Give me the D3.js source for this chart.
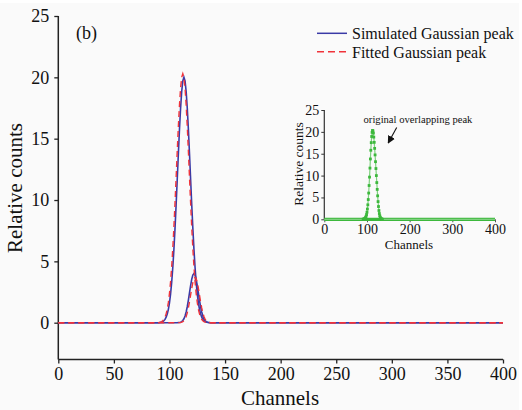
<!DOCTYPE html>
<html>
<head>
<meta charset="utf-8">
<script src="https://cdn.jsdelivr.net/npm/d3@7"></script>
<style>
  html, body { margin: 0; padding: 0; background: #ffffff; }
  svg { display: block; }
  text { font-family: "Liberation Serif", "Times New Roman", serif; fill: #111; }
</style>
</head>
<body>
<script>
// ---------------- DATA ----------------
const xTicks = [0, 50, 100, 150, 200, 250, 300, 350, 400];
const yTicks = [0, 5, 10, 15, 20, 25];
const insetXTicks = [0, 100, 200, 300, 400];
const insetYTicks = [0, 5, 10, 15, 20, 25];
const legendLabels = ["Simulated Gaussian peak", "Fitted Gaussian peak"];

// Simulated peak 1 (channels 91..135)
const sim1Start = 91;
const sim1Values = [0.01, 0.03, 0.05, 0.09, 0.16, 0.27, 0.45, 0.71, 1.09, 1.62,
  2.35, 3.31, 4.52, 6.00, 7.73, 9.65, 11.71, 13.79, 15.77, 17.50,
  18.85, 19.70, 20.00, 19.70, 18.85, 17.50, 15.77, 13.79, 11.71, 9.65,
  7.73, 6.00, 4.52, 3.31, 2.35, 1.62, 1.09, 0.71, 0.45, 0.27,
  0.16, 0.09, 0.05, 0.03, 0.01];
// Simulated peak 2 (channels 108..136)
const sim2Start = 108;
const sim2Values = [0.01, 0.02, 0.04, 0.09, 0.18, 0.32, 0.54, 0.87, 1.30, 1.83,
  2.43, 3.02, 3.53, 3.88, 4.00, 3.88, 3.53, 3.02, 2.43, 1.83,
  1.30, 0.87, 0.54, 0.32, 0.18, 0.09, 0.04, 0.02, 0.01];
// Fitted peak 1 (channels 90..134)
const fit1Start = 90;
const fit1Values = [0.01, 0.03, 0.05, 0.09, 0.16, 0.28, 0.45, 0.72, 1.10, 1.65,
  2.39, 3.36, 4.59, 6.09, 7.84, 9.80, 11.89, 14.00, 16.01, 17.76,
  19.13, 20.00, 20.30, 20.00, 19.13, 17.76, 16.01, 14.00, 11.89, 9.80,
  7.84, 6.09, 4.59, 3.36, 2.39, 1.65, 1.10, 0.72, 0.45, 0.28,
  0.16, 0.09, 0.05, 0.03, 0.01];
// Fitted peak 2 (channels 109..137)
const fit2Start = 109;
const fit2Values = [0.01, 0.02, 0.04, 0.08, 0.16, 0.29, 0.50, 0.80, 1.20, 1.69,
  2.24, 2.79, 3.27, 3.59, 3.70, 3.59, 3.27, 2.79, 2.24, 1.69,
  1.20, 0.80, 0.50, 0.29, 0.16, 0.08, 0.04, 0.02, 0.01];
// Inset: original overlapping peak (channels 91..136)
const origStart = 91;
const origValues = [0.01, 0.03, 0.05, 0.09, 0.16, 0.27, 0.45, 0.71, 1.09, 1.62,
  2.35, 3.31, 4.52, 6.00, 7.73, 9.65, 11.71, 13.80, 15.79, 17.54,
  18.94, 19.88, 20.32, 20.24, 19.72, 18.80, 17.60, 16.22, 14.73, 13.18,
  11.61, 10.00, 8.40, 6.84, 5.37, 4.05, 2.92, 2.01, 1.32, 0.81,
  0.48, 0.27, 0.14, 0.07, 0.03, 0.01];

// build series as [channel, value] points with zero baseline to 0 and 400
function series(start, values) {
  const pts = values.map((v, i) => [start + i, v]);
  return [[0, 0], [start - 1, 0], ...pts, [start + values.length, 0], [400, 0]];
}

// ---------------- CHART ----------------
const W = 522, H = 410;
const svg = d3.select("body").append("svg").attr("width", W).attr("height", H);
svg.append("rect").attr("x", 0).attr("y", 3).attr("width", 519).attr("height", H - 3).attr("fill", "#fafafa");

const x = d3.scaleLinear().domain([0, 400]).range([58.3, 503]);
const y = d3.scaleLinear().domain([-3, 25]).range([359.5, 16]);

const axisColor = "#222";

// X axis
const gx = svg.append("g").attr("transform", `translate(0,${y(-3)})`)
  .call(d3.axisBottom(x).tickValues(xTicks).tickSize(4).tickPadding(4).tickFormat(d3.format("d")));
gx.select(".domain").attr("stroke", axisColor).attr("stroke-width", 1.5).attr("d", `M${x(0)},0H${x(400)}`);
gx.selectAll(".tick line").attr("stroke", axisColor).attr("stroke-width", 1.3);
gx.selectAll(".tick text").attr("font-size", 18).attr("font-family", "Liberation Serif").attr("fill", "#111");

// Y axis
const gy = svg.append("g").attr("transform", `translate(${x(0)},0)`)
  .call(d3.axisLeft(y).tickValues(yTicks).tickSize(4).tickPadding(5).tickFormat(d3.format("d")));
gy.select(".domain").attr("stroke", axisColor).attr("stroke-width", 1.5).attr("d", `M0,${y(25)}V${y(-3)}`);
gy.selectAll(".tick line").attr("stroke", axisColor).attr("stroke-width", 1.3);
gy.selectAll(".tick text").attr("font-size", 18).attr("font-family", "Liberation Serif").attr("fill", "#111");

// Axis titles
svg.append("text").attr("x", 280).attr("y", 405).attr("text-anchor", "middle")
  .attr("font-size", 21).text("Channels");
svg.append("text").attr("transform", `translate(22,${188}) rotate(-90)`).attr("text-anchor", "middle")
  .attr("font-size", 21).text("Relative counts");

svg.append("text").attr("x", 76).attr("y", 39).attr("font-size", 18).text("(b)");

// Lines
const line = d3.line().x(d => x(d[0])).y(d => y(d[1]));
const blue = "#3a3aa6", red = "#f0333a";
[series(sim1Start, sim1Values), series(sim2Start, sim2Values)].forEach(s => {
  svg.append("path").datum(s).attr("d", line).attr("fill", "none")
    .attr("stroke", blue).attr("stroke-width", 1.6);
});
[series(fit1Start, fit1Values), series(fit2Start, fit2Values)].forEach(s => {
  svg.append("path").datum(s).attr("d", line).attr("fill", "none")
    .attr("stroke", red).attr("stroke-width", 1.4).attr("stroke-dasharray", "6,4");
});

// Legend
const legend = svg.append("g");
legendLabels.forEach((lab, i) => {
  const ly = 33.3 + i * 18.4;
  legend.append("line").attr("x1", 317).attr("x2", 347).attr("y1", ly).attr("y2", ly)
    .attr("stroke", i === 0 ? blue : red).attr("stroke-width", 1.5)
    .attr("stroke-dasharray", i === 0 ? null : "7,4");
  legend.append("text").attr("x", 352).attr("y", ly + 6).attr("font-size", 16).text(lab);
});

// ---------------- INSET ----------------
const ix = d3.scaleLinear().domain([0, 400]).range([324.3, 495]);
const iy = d3.scaleLinear().domain([0, 25]).range([219.3, 110]);
const inset = svg.append("g");

const igx = inset.append("g").attr("transform", `translate(0,${iy(0)})`)
  .call(d3.axisBottom(ix).tickValues(insetXTicks).tickSize(3).tickPadding(2).tickFormat(d3.format("d")));
igx.select(".domain").attr("stroke", "#555").attr("stroke-width", 1.2).attr("d", `M${ix(0)},0H${ix(400)}`);
igx.selectAll(".tick line").attr("stroke", "#555");
igx.selectAll(".tick text").attr("font-size", 14).attr("font-family", "Liberation Serif").attr("fill", "#111");

const igy = inset.append("g").attr("transform", `translate(${ix(0)},0)`)
  .call(d3.axisLeft(iy).tickValues(insetYTicks).tickSize(3).tickPadding(2).tickFormat(d3.format("d")));
igy.select(".domain").attr("stroke", "#333").attr("stroke-width", 1.2).attr("d", `M0,${iy(25)}V${iy(0)}`);
igy.selectAll(".tick line").attr("stroke", "#333");
igy.selectAll(".tick text").attr("font-size", 14).attr("font-family", "Liberation Serif").attr("fill", "#111");

inset.append("text").attr("x", 409).attr("y", 248.5).attr("text-anchor", "middle")
  .attr("font-size", 13).text("Channels");
inset.append("text").attr("transform", `translate(303,164) rotate(-90)`).attr("text-anchor", "middle")
  .attr("font-size", 13.5).text("Relative counts");

const green = "#3cb83c";
const origSeries = series(origStart, origValues);
const iline = d3.line().x(d => ix(d[0])).y(d => iy(d[1]));
inset.append("path").datum([[0, 0], [400, 0]]).attr("d", iline).attr("fill", "none")
  .attr("stroke", green).attr("stroke-width", 3.3);
inset.append("path").datum(origSeries).attr("d", iline).attr("fill", "none")
  .attr("stroke", "#7fd07f").attr("stroke-width", 1.2);
inset.selectAll("rect.mk").data(origValues.map((v, i) => [origStart + i, v])).enter()
  .append("rect").attr("class", "mk")
  .attr("x", d => ix(d[0]) - 1.4).attr("y", d => iy(d[1]) - 1.4)
  .attr("width", 2.8).attr("height", 2.8).attr("fill", green);

// Annotation
inset.append("text").attr("x", 418).attr("y", 123).attr("text-anchor", "middle")
  .attr("font-size", 10.6).text("original overlapping peak");
const defs = svg.append("defs");
defs.append("marker").attr("id", "arr").attr("viewBox", "0 0 10 10").attr("refX", 9).attr("refY", 5)
  .attr("markerWidth", 7).attr("markerHeight", 7).attr("orient", "auto")
  .append("path").attr("d", "M0,0L10,5L0,10z").attr("fill", "#111");
inset.append("line").attr("x1", 396.7).attr("y1", 127.5).attr("x2", 388.2).attr("y2", 143)
  .attr("stroke", "#111").attr("stroke-width", 1.1).attr("marker-end", "url(#arr)");
</script>
</body>
</html>
